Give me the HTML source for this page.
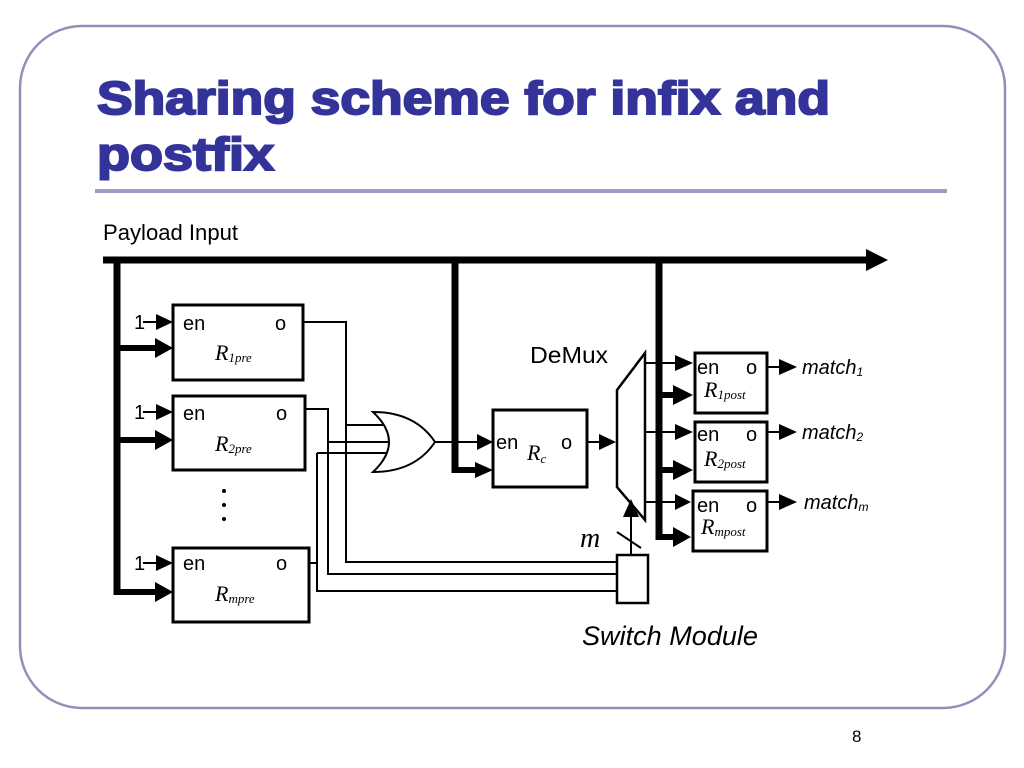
<!DOCTYPE html>
<html><head><meta charset="utf-8"><style>
html,body{margin:0;padding:0;background:#fff;}
svg{display:block;}
</style></head><body>
<svg width="1024" height="768" viewBox="0 0 1024 768" xmlns="http://www.w3.org/2000/svg">
<rect x="20" y="26" width="985" height="682" rx="62" ry="62" fill="#fff" stroke="#8e92b8" stroke-width="2.5"/>
<text x="97" y="114" font-family="Liberation Sans, sans-serif" font-weight="bold" font-size="46" fill="#333399" textLength="733" lengthAdjust="spacingAndGlyphs" stroke="#333399" stroke-width="2">Sharing scheme for infix and</text>
<text x="97" y="170" font-family="Liberation Sans, sans-serif" font-weight="bold" font-size="46" fill="#333399" textLength="177" lengthAdjust="spacingAndGlyphs" stroke="#333399" stroke-width="2">postfix</text>
<rect x="95" y="189" width="852" height="4" fill="#9a9cc4"/>
<text x="852" y="742" font-family="Liberation Sans, sans-serif" font-size="17" fill="#000">8</text>

<g font-family="Liberation Sans, sans-serif" fill="#000">
<text x="103" y="240" font-size="22" textLength="135" lengthAdjust="spacingAndGlyphs">Payload Input</text>
<text x="530" y="363" font-size="23" textLength="78" lengthAdjust="spacingAndGlyphs">DeMux</text>
<text x="582" y="645" font-size="27" font-style="italic" textLength="176" lengthAdjust="spacingAndGlyphs">Switch Module</text>
</g>

<g stroke="#000" fill="none">
<line x1="103" y1="260" x2="868" y2="260" stroke-width="7"/>
<path d="M866,249 L888,260 L866,271 Z" fill="#000" stroke="none"/>
<line x1="117" y1="257" x2="117" y2="595" stroke-width="7"/>
<line x1="455" y1="257" x2="455" y2="473" stroke-width="7"/>
<line x1="659" y1="257" x2="659" y2="540" stroke-width="7"/>

<rect x="173" y="305" width="130" height="75" stroke-width="3"/>
<rect x="173" y="396" width="132" height="74" stroke-width="3"/>
<rect x="173" y="548" width="136" height="74" stroke-width="3"/>
<line x1="117" y1="348" x2="155" y2="348" stroke-width="6"/>
<line x1="117" y1="440" x2="155" y2="440" stroke-width="6"/>
<line x1="117" y1="592" x2="155" y2="592" stroke-width="6"/>
<line x1="455" y1="470" x2="475" y2="470" stroke-width="6"/>
<line x1="659" y1="395" x2="675" y2="395" stroke-width="6"/>
<line x1="659" y1="470" x2="675" y2="470" stroke-width="6"/>
<line x1="659" y1="537" x2="675" y2="537" stroke-width="6"/>
<line x1="143" y1="322" x2="158" y2="322" stroke-width="2"/>
<line x1="143" y1="412" x2="158" y2="412" stroke-width="2"/>
<line x1="143" y1="563" x2="158" y2="563" stroke-width="2"/>
<polyline points="303,322 346,322 346,562 617,562" stroke-width="2"/>
<polyline points="305,409 328,409 328,574 617,574" stroke-width="2"/>
<polyline points="309,563 317,563" stroke-width="2"/>
<polyline points="317,453 317,591 617,591" stroke-width="2"/>
<line x1="346" y1="425" x2="388" y2="425" stroke-width="2"/>
<line x1="328" y1="442" x2="393" y2="442" stroke-width="2"/>
<line x1="317" y1="453" x2="388" y2="453" stroke-width="2"/>
<path d="M373,412 Q405,442 373,472 Q415,472 435,442 Q415,412 373,412 Z" stroke-width="2" fill="#fff"/>
<line x1="435" y1="442" x2="478" y2="442" stroke-width="2"/>
<rect x="493" y="410" width="94" height="77" stroke-width="3"/>
<line x1="587" y1="442" x2="600" y2="442" stroke-width="2"/>
<path d="M645,353 L645,520 L617,487 L617,390 Z" stroke-width="2.5" fill="#fff"/>
<line x1="645" y1="363" x2="676" y2="363" stroke-width="2"/>
<line x1="645" y1="432" x2="676" y2="432" stroke-width="2"/>
<line x1="645" y1="502" x2="676" y2="502" stroke-width="2"/>
<rect x="617" y="555" width="31" height="48" stroke-width="2.5"/>
<line x1="631" y1="555" x2="631" y2="515" stroke-width="2"/>
<line x1="617" y1="532" x2="641" y2="548" stroke-width="2"/>
<rect x="695" y="353" width="72" height="60" stroke-width="3"/>
<rect x="695" y="422" width="72" height="60" stroke-width="3"/>
<rect x="693" y="491" width="74" height="60" stroke-width="3"/>
<line x1="767" y1="367" x2="780" y2="367" stroke-width="2"/>
<line x1="767" y1="432" x2="780" y2="432" stroke-width="2"/>
<line x1="767" y1="502" x2="780" y2="502" stroke-width="2"/>
</g>
<g fill="#000">
<path d="M155,338 L173,348 L155,358 Z"/><path d="M155,430 L173,440 L155,450 Z"/><path d="M155,582 L173,592 L155,602 Z"/>
<path d="M156,314 L173,322 L156,330 Z"/><path d="M156,404 L173,412 L156,420 Z"/><path d="M156,555 L173,563 L156,571 Z"/>
<path d="M475,462 L493,470 L475,478 Z"/><path d="M477,434 L493,442 L477,450 Z"/>
<path d="M599,434 L616,442 L599,450 Z"/>
<path d="M623,517 L631,499 L639,517 Z"/>
<path d="M675,355 L693,363 L675,371 Z"/><path d="M675,424 L693,432 L675,440 Z"/><path d="M675,494 L691,502 L675,510 Z"/>
<path d="M673,385 L693,395 L673,405 Z"/><path d="M673,460 L693,470 L673,480 Z"/><path d="M673,527 L691,537 L673,547 Z"/>
<path d="M779,359 L797,367 L779,375 Z"/><path d="M779,424 L797,432 L779,440 Z"/><path d="M779,494 L797,502 L779,510 Z"/>
<circle cx="224" cy="491" r="2"/><circle cx="224" cy="505" r="2"/><circle cx="224" cy="519" r="2"/>
</g>
<g font-family="Liberation Sans, sans-serif" font-size="20" fill="#000">
<text x="134" y="329">1</text><text x="134" y="419">1</text><text x="134" y="570">1</text>
<text x="183" y="330">en</text><text x="275" y="330">o</text>
<text x="183" y="420">en</text><text x="276" y="420">o</text>
<text x="183" y="570">en</text><text x="276" y="570">o</text>
<text x="496" y="449">en</text><text x="561" y="449">o</text>
<text x="697" y="374">en</text><text x="746" y="374">o</text>
<text x="697" y="441">en</text><text x="746" y="441">o</text>
<text x="697" y="512">en</text><text x="746" y="512">o</text>
</g>
<g font-family="Liberation Serif, serif" font-style="italic" fill="#000">
<text x="215" y="360" font-size="22">R<tspan font-size="13" dy="2">1pre</tspan></text>
<text x="215" y="451" font-size="22">R<tspan font-size="13" dy="2">2pre</tspan></text>
<text x="215" y="601" font-size="22">R<tspan font-size="13" dy="2">mpre</tspan></text>
<text x="527" y="460" font-size="22">R<tspan font-size="13" dy="3">c</tspan></text>
<text x="704" y="397" font-size="22">R<tspan font-size="13" dy="2">1post</tspan></text>
<text x="704" y="466" font-size="22">R<tspan font-size="13" dy="2">2post</tspan></text>
<text x="701" y="534" font-size="22">R<tspan font-size="13" dy="2">mpost</tspan></text>
<text x="580" y="547" font-size="28">m</text>
</g>
<g font-family="Liberation Sans, sans-serif" font-style="italic" font-size="20" fill="#000">
<text x="802" y="374">match<tspan font-size="12" dy="2">1</tspan></text>
<text x="802" y="439">match<tspan font-size="12" dy="2">2</tspan></text>
<text x="804" y="509">match<tspan font-size="12" dy="2">m</tspan></text>
</g>
</svg>
</body></html>
